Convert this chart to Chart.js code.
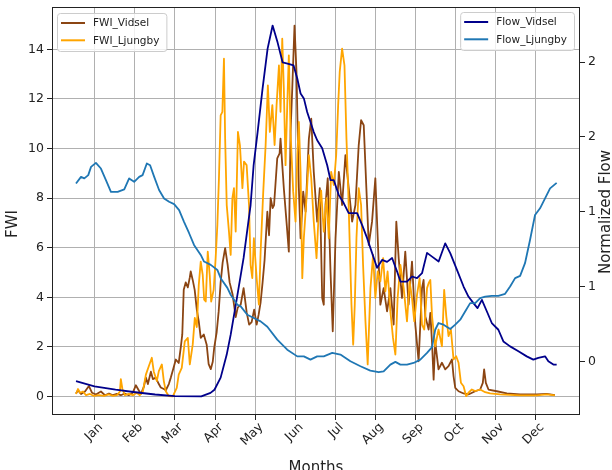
<!DOCTYPE html>
<html><head><meta charset="utf-8">
<script src="https://cdn.jsdelivr.net/npm/chart.js@4.4.0/dist/chart.umd.min.js"></script>
<style>
html,body{margin:0;padding:0;overflow:hidden;background:#fff;width:612px;height:470px}
#wrap{position:relative;width:618px;height:479px}
</style>
</head><body><div id="wrap"><canvas id="c" width="618" height="479"></canvas></div>
<script>
// ---- categories / ticks ----
const months = ['Jan','Feb','Mar','Apr','May','Jun','Jul','Aug','Sep','Oct','Nov','Dec'];
const monthTickDays = [14.2,44.6,75.0,105.5,135.9,166.3,196.7,227.1,257.5,288.0,318.4,348.8];
const fwiTicks = [0,2,4,6,8,10,12,14];
const flowTickValues = [0,0.5,1,1.5,2];
const flowTickLabels = ['0','1','1','2','2'];

// ---- FWI_Vidsel ----
const vidselFwiDays = [0,1.5,3.8,6.8,9.8,12.1,15.1,18.9,21.9,25,28,31,34,37,40,43,45.4,47,49.2,51.5,53,54.5,56.8,58.3,60.5,62.8,64.3,66.6,68.1,70.4,71.9,74.2,75.7,77.9,79.5,80.6,81.7,83.2,84.8,86.3,87,88.5,90,91.6,93.1,94.6,96.9,99.1,100.6,102.2,103.7,104.8,106.7,108.2,109.7,111.2,113.1,115,116.5,118.8,121.1,122.6,124.9,127.1,129.4,131.3,133.2,135.1,137,138.5,140,141.5,143,145.1,146.4,147.6,149.1,150.2,152.6,154.4,155.1,157.6,159.7,161.4,162.7,164,165.7,167.2,169,170.3,172.3,174.1,176.6,178.4,180.3,182.9,184.9,186.7,187.9,189.2,190.9,193,194.7,196.8,199.3,201.8,204.3,206.8,209.4,211.9,214.4,216.2,218.2,220.2,222,224.5,227,228.8,230.8,233.3,235.9,238.4,240.9,242.9,244.7,247.2,249.7,252.2,254.8,257.3,259.8,262.4,263.6,264.9,267.4,268.7,270,271.2,272.4,274.9,277.5,280,282.5,285.1,286.3,287.6,290.1,293.9,297.6,302.7,306.5,308.5,309.5,310.8,312.8,319.1,326.7,336.8,349.4,357,363.2];
const vidselFwi = [0.12,0.25,0.1,0.2,0.42,0.15,0.08,0.2,0.05,0.12,0.05,0.1,0.05,0.12,0.05,0.15,0.45,0.3,0.1,0.4,0.76,0.5,1.0,0.7,0.76,0.5,0.36,0.3,0.25,0.5,0.76,1.2,1.49,1.35,2.0,2.5,4.3,4.6,4.4,4.8,5.04,4.7,4.3,3.5,3.03,2.36,2.5,2.09,1.3,1.1,1.4,1.96,2.6,3.43,4.6,5.4,5.98,5.31,4.6,4.1,3.2,3.58,3.7,4.37,3.4,2.9,3.0,3.5,2.9,3.3,3.8,4.6,5.5,7.45,6.5,8.0,7.6,7.72,9.6,9.8,10.4,8.4,7.0,5.84,10.67,12.42,14.96,13.1,8.4,6.38,8.26,7.45,10.4,11.2,9.06,7.05,8.4,3.97,3.7,7.72,8.8,5.04,2.63,6.38,9.06,7.72,9.73,8.4,7.05,7.72,10.14,11.14,10.94,8.4,6.11,7.05,8.8,6.38,3.7,4.37,3.43,4.37,2.9,7.05,5.58,3.97,5.84,3.7,5.44,2.9,1.42,4.37,4.7,3.23,2.7,3.37,2.16,0.68,2.2,1.09,1.36,1.09,1.22,1.49,0.82,0.35,0.21,0.12,0.08,0.21,0.28,0.55,1.09,0.55,0.28,0.21,0.12,0.08,0.08,0.1,0.05];

// ---- FWI_Ljungby ----
const ljungbyFwiDays = [0,1.5,3,5.3,7.6,10.6,13.6,17.4,21.2,25,28,31,33.3,34,35.2,37.1,40.1,43.1,46.2,48.4,50.7,53,55.2,57.5,59,61.3,62.8,65.1,66.6,68.1,70.4,73.4,76.4,77.9,80.2,82.5,84.8,86.3,88.5,90.1,91.6,93.1,94.6,96.1,97.2,98.4,99.9,101.4,102.5,104.4,105.9,107.2,108.4,109.7,111,112.2,113.1,114.3,116,117.3,118.6,119.8,121.1,122.8,124.3,126.2,127.4,129.4,131.2,132.4,133.7,134.9,137,138.7,140,142,143.8,145.5,147,148.9,150.6,152.1,153.9,155.1,156.4,157.6,158.9,160.2,161.4,162.7,164.7,166.5,167.8,169,170.3,171.6,172.8,174.8,176.6,178.4,180.3,182.4,184.1,185.9,187.9,190,191.7,193.5,195.5,197.3,198.8,200,201.8,203.6,205.1,206.4,207.6,208.9,210.2,211.4,212.7,214.4,216.2,217.7,219.5,221.2,223.3,225.3,227,228.8,230.8,232.9,234.6,236.3,238.4,240.4,242.2,243.9,246,248.5,251,253,254.8,256.5,258.6,260.6,262.4,264.1,266.2,267.4,268.7,270,272.4,274.9,277.5,279.2,280.8,282.5,284.3,286.3,288.3,290.1,291.9,293.9,295.9,297.6,300.2,302.7,306.5,310.3,314.1,321.6,329.2,336.8,349.4,357,363.2];
const ljungbyFwi = [0.1,0.3,0.15,0.2,0.05,0.1,0.02,0.05,0.02,0.08,0.02,0.05,0.2,0.7,0.3,0.05,0.1,0.05,0.15,0.05,0.2,0.88,1.22,1.56,1.0,0.62,1.02,1.29,0.62,0.21,0.01,0.0,0.35,0.88,1.15,2.22,2.36,1.29,2.09,3.17,2.8,4.5,5.44,4.9,3.9,3.83,5.84,4.9,3.83,4.3,5.58,6.92,8.8,11.34,11.48,13.62,10.4,7.72,6.65,5.71,8.0,8.4,6.65,10.67,10.14,8.4,9.47,9.33,7.72,5.31,4.77,6.38,4.77,3.7,5.84,8.26,10.14,12.55,10.67,11.75,10.14,11.75,13.35,11.48,14.43,12.42,9.33,11.75,13.76,10.67,8.26,7.05,9.73,11.07,9.06,4.77,6.4,8.0,9.73,8.8,7.05,5.58,7.45,8.3,6.65,8.0,6.38,9.06,8.53,9.73,11.75,13.1,14.03,13.35,10.4,8.4,6.11,3.7,2.09,3.7,6.4,8.4,7.72,5.3,3.03,1.29,4.37,5.71,3.97,5.04,4.64,5.58,4.24,5.04,3.43,2.36,1.69,3.97,5.31,4.37,3.03,4.64,3.97,3.03,4.1,4.77,2.9,2.7,4.37,4.57,4.7,3.23,2.02,2.7,2.02,4.3,3.23,2.43,2.7,1.49,1.62,1.36,0.55,0.41,0.01,0.15,0.28,0.22,0.28,0.17,0.12,0.08,0.06,0.04,0.04,0.08,0.04];

// ---- Flow_Vidsel ----
const vidselFlowDays = [0,14,30,45,60,75,95,102,105,109.7,114.3,117.3,121.8,127.1,132.4,134.7,137.7,141.5,145.3,149.1,152.9,156.7,160.4,165,167.8,170.3,172.8,175.3,177.8,180.3,182.9,186.7,190.5,193,195.5,199.3,203,206.8,213.2,217,220.7,224.5,228.3,232.1,235.9,239.7,243.5,246,251,254.8,258.6,262.4,266.2,270,275,280,283.8,288.9,293.9,297.6,301.4,304.5,307.8,311.6,315.3,320.3,324.1,329.2,335.5,341.8,346.8,350.6,355.7,358.2,362,364.5];
const vidselFlow = [-0.133,-0.167,-0.19,-0.207,-0.222,-0.233,-0.235,-0.211,-0.19,-0.109,0.045,0.178,0.411,0.691,1.045,1.311,1.531,1.825,2.091,2.245,2.131,1.998,1.991,1.978,1.891,1.791,1.758,1.667,1.6,1.533,1.478,1.425,1.311,1.211,1.211,1.111,1.058,0.991,0.991,0.911,0.825,0.725,0.625,0.678,0.665,0.691,0.6,0.533,0.533,0.567,0.556,0.589,0.725,0.7,0.667,0.789,0.723,0.611,0.5,0.433,0.389,0.356,0.411,0.333,0.256,0.211,0.133,0.1,0.067,0.033,0.011,0.023,0.033,0,-0.022,-0.022];

// ---- Flow_Ljungby ----
const ljungbyFlowDays = [0,3.8,6.3,9.3,11.4,15.1,18.9,22.7,26.5,31.6,36.6,40.3,44.1,47.9,50.5,53.7,56.2,59.3,63,66.8,70.6,74.4,78.2,82,85.7,89.5,94.6,97.1,102.2,107.2,109.7,114.8,117.3,122.4,124.9,129.9,137.5,140,145.1,152.6,160.2,167.8,172.8,177.8,182.9,187.9,194.3,200.5,208.1,215.7,223.2,229.5,233.3,238.4,242.2,246,251,256,261.1,266.2,270,272.4,274.9,278.7,283.8,287.6,291.4,295.1,298.9,302.7,306.5,310.3,315.3,320.3,325.4,329.2,333,336.8,340.5,344.3,348.1,351.9,355.7,359.5,364.5];
const ljungbyFlow = [1.189,1.233,1.223,1.245,1.3,1.327,1.289,1.211,1.133,1.133,1.149,1.223,1.2,1.233,1.245,1.323,1.311,1.233,1.145,1.089,1.067,1.051,1.011,0.931,0.858,0.778,0.711,0.667,0.645,0.611,0.556,0.491,0.445,0.378,0.367,0.311,0.278,0.267,0.231,0.145,0.078,0.033,0.033,0.011,0.033,0.033,0.056,0.045,0,-0.033,-0.062,-0.073,-0.067,-0.022,-0.004,-0.022,-0.022,-0.011,0.011,0.056,0.095,0.211,0.256,0.245,0.216,0.245,0.278,0.333,0.389,0.389,0.423,0.433,0.438,0.438,0.451,0.5,0.556,0.571,0.656,0.811,0.978,1.023,1.089,1.156,1.193];

const FONT = "'DejaVu Sans', sans-serif";
const TXT = '#222222';
Chart.defaults.font.family = FONT;
Chart.defaults.color = TXT;

const pts = (xs, ys) => xs.map((x, i) => ({x: x, y: ys[i]}));

const framePlugin = {
  id: 'frame',
  afterDraw(chart) {
    const {ctx, chartArea: a} = chart;
    ctx.save();
    ctx.strokeStyle = '#222';
    ctx.lineWidth = 1;
    ctx.strokeRect(Math.round(a.left) + 0.5, Math.round(a.top) + 0.5,
                   Math.round(a.right - a.left) - 1, Math.round(a.bottom - a.top) - 1);
    ctx.fillStyle = TXT;
    ctx.font = '15px ' + FONT;
    ctx.textAlign = 'center';
    ctx.textBaseline = 'middle';
    ctx.save(); ctx.translate(13, 224); ctx.rotate(-Math.PI / 2); ctx.fillText('FWI', 0, 0); ctx.restore();
    ctx.save(); ctx.translate(606, (a.top + a.bottom) / 2 + 1); ctx.rotate(-Math.PI / 2); ctx.fillText('Normalized Flow', 0, 0); ctx.restore();
    const ds = chart.data.datasets;
    function legend(items, x0, y0, alignRight) {
      ctx.font = '10.5px ' + FONT;
      const tw = Math.max(...items.map(d => ctx.measureText(d.label).width));
      const w = 36 + tw + 7, h = 38;
      const x = alignRight ? x0 - w : x0;
      ctx.beginPath();
      ctx.roundRect(x + 0.5, y0 + 0.5, w, h, 3);
      ctx.fillStyle = 'rgba(255,255,255,0.8)';
      ctx.fill();
      ctx.strokeStyle = '#cccccc';
      ctx.lineWidth = 1;
      ctx.stroke();
      items.forEach((d, i) => {
        const yy = y0 + 10 + i * 17.3;
        ctx.beginPath();
        ctx.moveTo(x + 4, yy); ctx.lineTo(x + 28, yy);
        ctx.strokeStyle = d.borderColor; ctx.lineWidth = 2; ctx.stroke();
        ctx.fillStyle = TXT; ctx.textAlign = 'left'; ctx.textBaseline = 'middle';
        ctx.fillText(d.label, x + 36, yy + 0.5);
      });
    }
    legend([ds[0], ds[1]], a.left + 5, a.top + 6, false);
    legend([ds[2], ds[3]], a.right - 6, a.top + 5, true);
    ctx.restore();
  }
};

const gridStyle = {color: '#b0b0b0', lineWidth: 1, tickLength: 5, tickColor: '#222', drawTicks: true};

new Chart(document.getElementById('c').getContext('2d'), {
  type: 'line',
  data: {
    datasets: [
      {label: 'FWI_Vidsel', data: pts(vidselFwiDays, vidselFwi), borderColor: '#8B4513', yAxisID: 'y', order: 3},
      {label: 'FWI_Ljungby', data: pts(ljungbyFwiDays, ljungbyFwi), borderColor: '#FFA500', yAxisID: 'y', order: 2},
      {label: 'Flow_Vidsel', data: pts(vidselFlowDays, vidselFlow), borderColor: '#00008B', yAxisID: 'y1', order: 1},
      {label: 'Flow_Ljungby', data: pts(ljungbyFlowDays, ljungbyFlow), borderColor: '#1f77b4', yAxisID: 'y1', order: 0}
    ]
  },
  options: {
    responsive: false,
    animation: false,
    events: [],
    layout: {padding: {top: 7, left: 0, right: 0, bottom: 0}},
    elements: {
      line: {borderWidth: 1.8, tension: 0, borderJoinStyle: 'round', fill: false},
      point: {radius: 0}
    },
    plugins: {legend: {display: false}, tooltip: {enabled: false}},
    scales: {
      x: {
        type: 'linear', position: 'bottom', min: -18.2, max: 382.2,
        afterBuildTicks: s => { s.ticks = monthTickDays.map(v => ({value: v})); },
        ticks: {autoSkip: false, minRotation: 45, maxRotation: 45, labelOffset: 6, padding: 0,
                color: TXT, font: {size: 12.5}, callback: (v, i) => months[i]},
        grid: gridStyle,
        border: {display: false},
        title: {display: true, text: 'Months', color: TXT, font: {size: 15}, padding: {top: 0, bottom: 2}},
        afterFit: s => { s.height = 64; s.paddingLeft = 0; s.paddingRight = 0; }
      },
      y: {
        position: 'left', min: -0.748, max: 15.708,
        afterBuildTicks: s => { s.ticks = fwiTicks.map(v => ({value: v})); },
        ticks: {padding: 3, color: TXT, font: {size: 12.5}, callback: v => String(v)},
        grid: gridStyle,
        border: {display: false},
        afterFit: s => { s.width = 52; s.paddingTop = 0; s.paddingBottom = 0; }
      },
      y1: {
        position: 'right', min: -0.359, max: 2.369,
        afterBuildTicks: s => { s.ticks = flowTickValues.map(v => ({value: v})); },
        ticks: {padding: 3, color: TXT, font: {size: 12.5}, callback: (v, i) => flowTickLabels[i]},
        grid: {drawOnChartArea: false, tickLength: 5, tickColor: '#222', drawTicks: true},
        border: {display: false},
        afterFit: s => { s.width = 38; s.paddingTop = 0; s.paddingBottom = 0; }
      }
    }
  },
  plugins: [framePlugin]
});
</script>
</body></html>
